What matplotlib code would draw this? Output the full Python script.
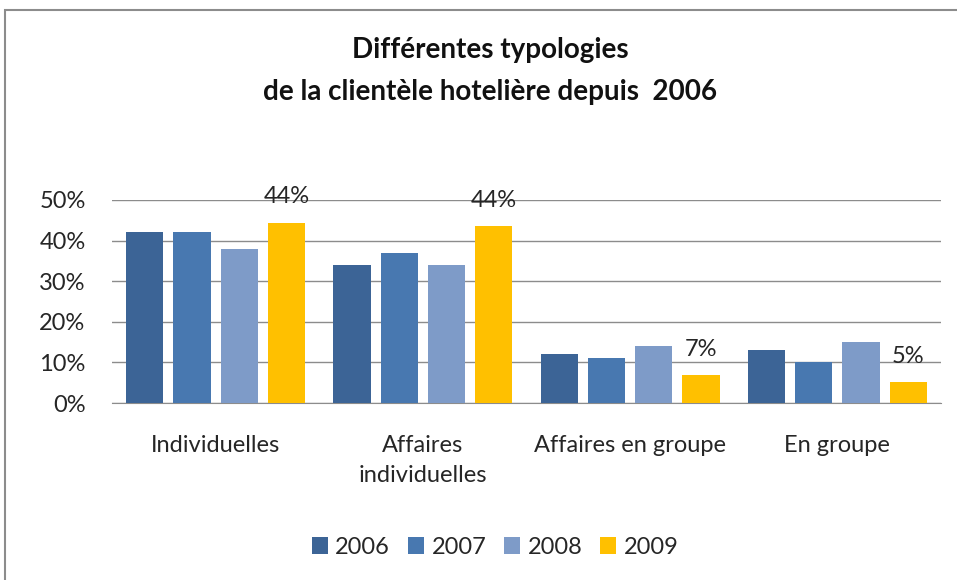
import numpy as np
import matplotlib
matplotlib.use('Agg')
import matplotlib.pyplot as plt
from matplotlib.patches import Rectangle

plt.rcParams['font.family'] = ['Lato', 'DejaVu Sans']

# Données (en %)
categories = ['Individuelles', 'Affaires\nindividuelles', 'Affaires en groupe', 'En groupe']
years = ['2006', '2007', '2008', '2009']
v2006 = [42, 34, 12, 13]
v2007 = [42, 37, 11, 10]
v2008 = [38, 34, 14, 15]
v2009 = [44.4, 43.5, 6.8, 5.2]
labels_2009 = ['44%', '44%', '7%', '5%']

series = [v2006, v2007, v2008, v2009]
colors = ['#3C6496', '#4878B0', '#7E9BC8', '#FFC000']
txt_col = '#262626'

fig = plt.figure(figsize=(9.57, 5.8), dpi=100)
ax = fig.add_axes([112 / 957, 1 - 403 / 580, 829 / 957, 203 / 580])

x = np.arange(len(categories))
pitch = 0.228
width = 0.18
for i, (vals, col, yr) in enumerate(zip(series, colors, years)):
    bars = ax.bar(x + (i - 1.5) * pitch, np.array(vals) / 100, width=width,
                  color=col, label=yr, zorder=3)
    if yr == '2009':
        for b, lab in zip(bars, labels_2009):
            ax.annotate(lab, (b.get_x() + b.get_width() / 2, b.get_height()),
                        xytext=(0, 11), textcoords='offset points',
                        ha='center', va='bottom', fontsize=17, color=txt_col,
                        annotation_clip=False, zorder=4)

ax.set_xlim(-0.5, 3.5)
ax.set_ylim(0, 0.5)
ax.set_yticks(np.arange(0, 0.51, 0.1))
ax.set_yticklabels([f'{int(round(t * 100))}%' for t in np.arange(0, 0.51, 0.1)])
ax.set_xticks(x)
ax.set_xticklabels(categories, linespacing=1.55)
ax.tick_params(axis='both', length=0, labelsize=17, colors=txt_col)
ax.tick_params(axis='x', pad=23)
ax.tick_params(axis='y', pad=19)
ax.grid(axis='y', color='#8C8C8C', linewidth=1, zorder=0)
for s in ['top', 'right', 'left']:
    ax.spines[s].set_visible(False)
ax.spines['bottom'].set_color('#8C8C8C')

fig.text(0.512, 1 - 50 / 580, 'Différentes typologies', ha='center', va='center',
         fontsize=20, fontweight='bold', color='#111111')
fig.text(0.512, 1 - 92 / 580, 'de la clientèle hotelière depuis  2006', ha='center',
         va='center', fontsize=20, fontweight='bold', color='#111111')

ax.legend(loc='center', bbox_to_anchor=(495 / 957, 1 - 547 / 580),
          bbox_transform=fig.transFigure, ncol=4, frameon=False, fontsize=17,
          handlelength=0.7, handleheight=0.7, handletextpad=0.3, columnspacing=0.75,
          labelcolor=txt_col)

fig.patches.append(Rectangle((5 / 957, -0.05), 1.1, 1 - 10 / 580 + 0.05,
                             transform=fig.transFigure, fill=False,
                             edgecolor='#8C8C8C', linewidth=1.5))

fig.savefig('out.png', dpi=100)
